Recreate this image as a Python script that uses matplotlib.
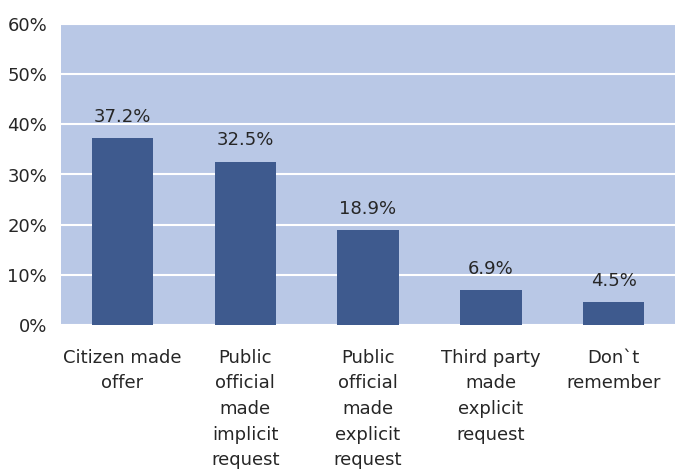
import matplotlib.pyplot as plt
from matplotlib.ticker import FuncFormatter

categorias = ["Citizen made\noffer",
              "Public\nofficial\nmade\nimplicit\nrequest",
              "Public\nofficial\nmade\nexplicit\nrequest",
              "Third party\nmade\nexplicit\nrequest",
              "Don`t\nremember"]
valores = [37.2, 32.5, 18.9, 6.9, 4.5]
ticks_y = [0, 10, 20, 30, 40, 50, 60]

color_fondo = "#B9C8E6"
color_barra = "#3E5A8E"
color_texto = "#262626"

fig = plt.figure(figsize=(6.75, 4.73), dpi=100)
ax = fig.add_axes([61 / 675, (473 - 325) / 473, 1 - 61 / 675, (325 - 24) / 473])
ax.set_facecolor(color_fondo)

x = range(len(categorias))
barras = ax.bar(x, valores, width=0.5, color=color_barra, zorder=3)

# etiquetas sobre cada barra
for b, v in zip(barras, valores):
    ax.annotate(f"{v}%", (b.get_x() + b.get_width() / 2, v),
                xytext=(0, 9), textcoords="offset points",
                ha="center", va="bottom", fontsize=13, color=color_texto)

ax.set_xlim(-0.5, len(categorias) - 0.5)
ax.set_ylim(0, 60)
ax.set_yticks(ticks_y)
ax.yaxis.set_major_formatter(FuncFormatter(lambda v, p: f"{int(v)}%"))
ax.set_xticks(list(x))
ax.set_xticklabels(categorias, linespacing=1.55)

ax.grid(axis="y", color="white", linewidth=1.5, zorder=1)
ax.tick_params(axis="both", length=0, labelsize=13, labelcolor=color_texto)
ax.tick_params(axis="x", pad=17)
ax.tick_params(axis="y", pad=10)
for s in ax.spines.values():
    s.set_visible(False)

plt.savefig("out.png", dpi=100)
plt.close()
